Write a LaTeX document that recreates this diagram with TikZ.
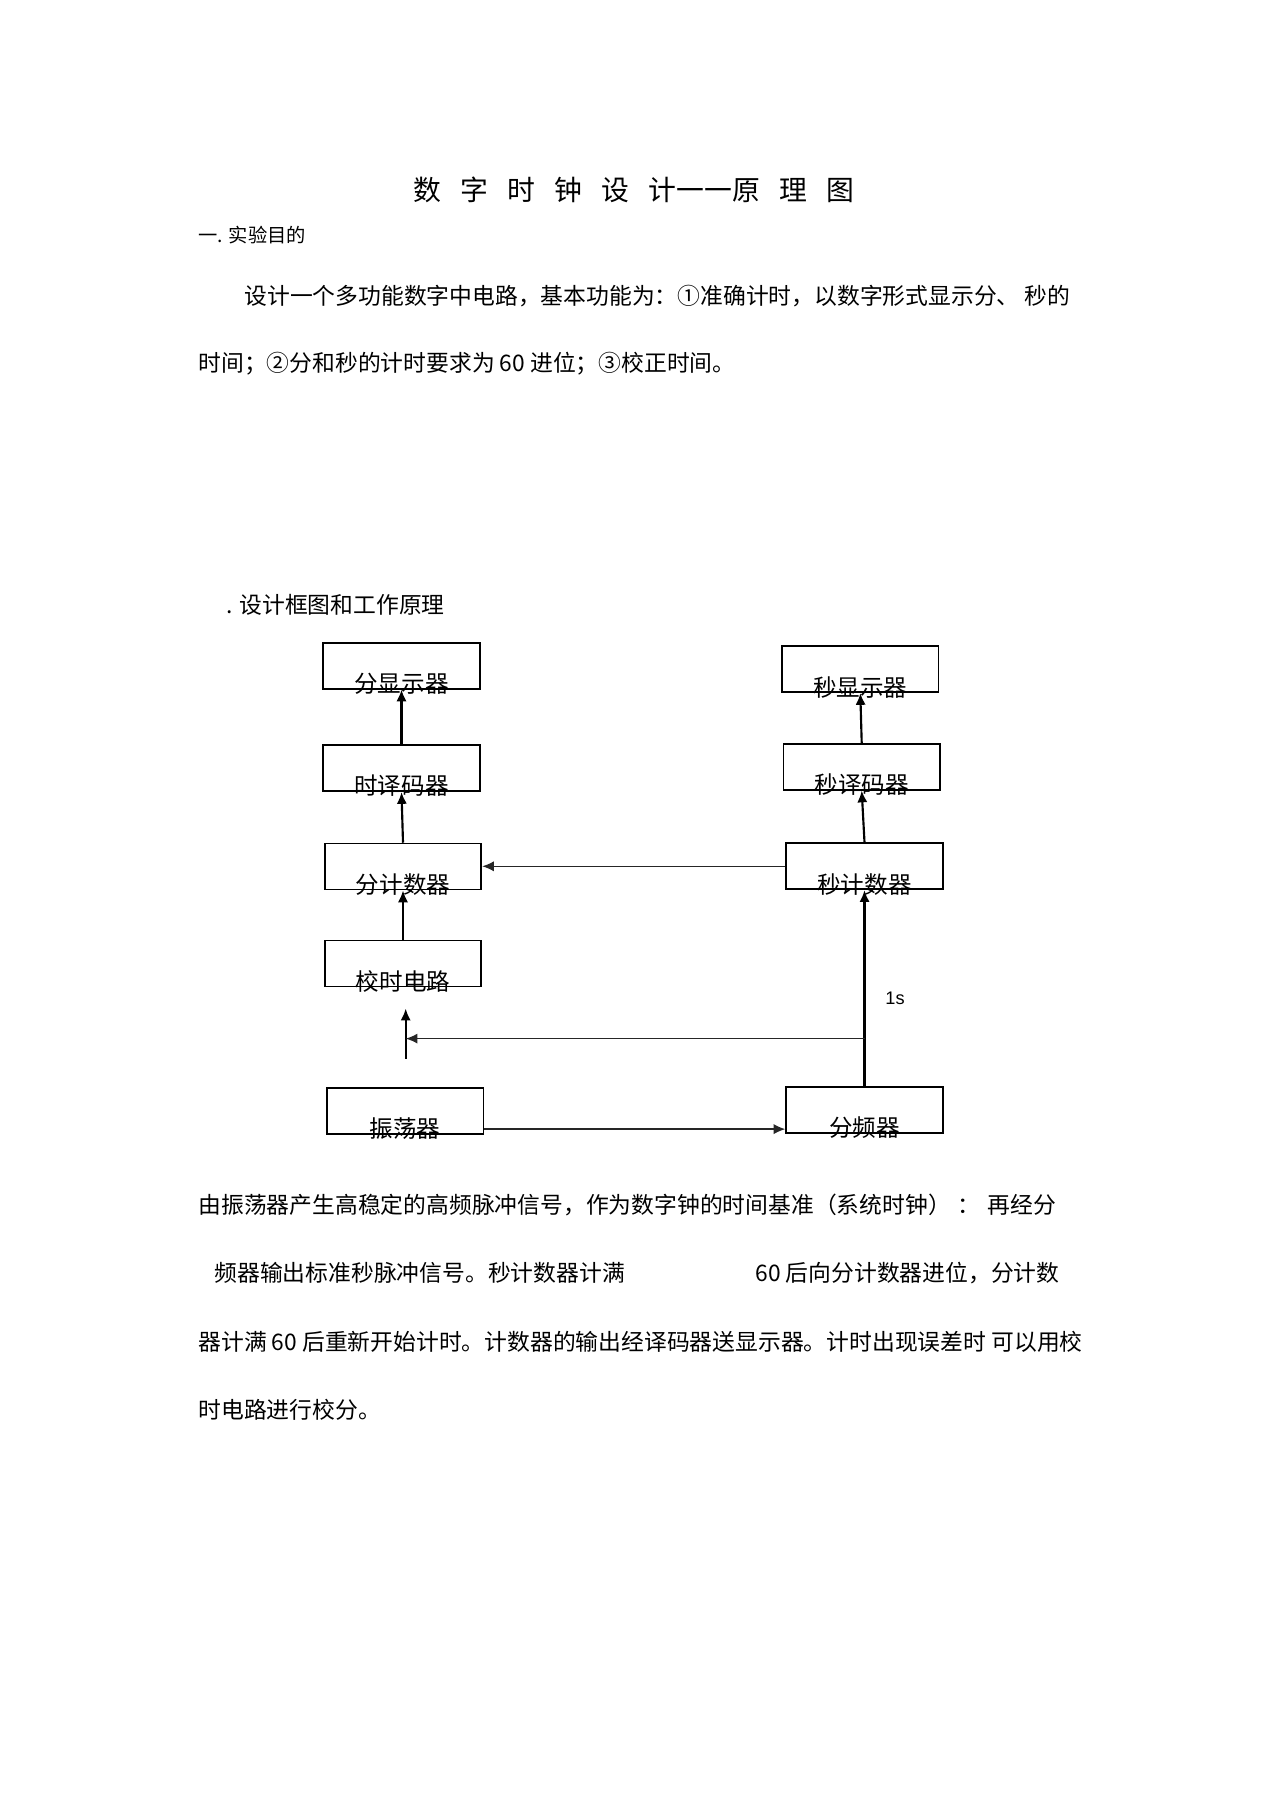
\documentclass[tikz,border=0pt]{standalone}
\usepackage{fontspec}
\setmainfont{Noto Sans CJK SC}
\newfontfamily\latinsf{Liberation Sans}
\usepackage{tikz}
\usetikzlibrary{arrows.meta}
\newcommand{\ttlgap}{\hspace{9pt}}

\begin{document}
\begin{tikzpicture}[x=0.4671pt, y=-0.4671pt,
    blk/.style={draw=black, line width=0.8pt, minimum width=73.1pt,
                minimum height=21.5pt, inner sep=0pt,
                label={[boxtxt]south:#1}},
    boxtxt/.style={anchor=center, yshift=2.8pt,
                font=\fontsize{11pt}{13pt}\selectfont},
    arr/.style={line width=1pt, -{Latex[length=5.5pt,width=4.8pt]}},
    wire/.style={line width=0.75pt, draw=black!85},
    txt/.style={anchor=west, inner sep=0pt,
                font=\fontsize{10.65pt}{12pt}\selectfont}]
\useasboundingbox (0,0) rectangle (1274,1804);

\node[inner sep=0pt, font=\fontsize{13pt}{15pt}\selectfont] (title) at (634,190)
    {数\ttlgap 字\ttlgap 时\ttlgap 钟\ttlgap 设\ttlgap 计一一原\ttlgap 理\ttlgap 图};
\node[txt, font=\fontsize{9pt}{11pt}\selectfont] (aim) at (198,235) {一. 实验目的};
\node[txt] (aim1) at (244,296) {设计一个多功能数字中电路，基本功能为：①准确计时，以数字形式显示分、 秒的};
\node[txt] (aim2) at (198,364) {时间；②分和秒的计时要求为 60 进位；③校正时间。};
\node[txt] (sec2) at (226,605) {. 设计框图和工作原理};

% blocks
\foreach \nm/\px/\py/\tx in {fxs/401.5/665.7/分显示器, fym/401.5/768.2/时译码器,
    fjs/403/866.6/分计数器, jsdl/403/963.5/校时电路, zdq/405.2/1110.7/振荡器,
    mxs/860.3/669.2/秒显示器, mym/861.7/766.7/秒译码器,
    mjs/864.5/866.3/秒计数器, fpq/864.5/1110/分频器}
    \node[blk=\tx] (\nm) at (\px,\py) {};

\draw[arr] (fym.north) -- (fxs.south);
\draw[arr] (fjs.north) -- (fym.south);
\draw[arr] (jsdl.north) -- (fjs.south);
\draw[arr] (mjs.north) -- (mym.south);
\draw[arr] (mym.north) -- (mxs.south);
\draw[arr] (fpq.north) -- (mjs.south);
\draw[arr, wire] (mjs.west) -- (mjs.west -| fjs.east);

\coordinate (br) at (fpq.north |- 0,1038.6);
\coordinate (jtail) at (405.7,1058.6);
\coordinate (jtip) at (405.7,1008.6);
\draw[arr] (jtail) -- (jtip);
\draw[arr, wire] (br) -- (br -| jtail);
\draw[arr, wire] ([yshift=-8.6pt]zdq.east) -- ([yshift=-8.6pt]zdq.east -| fpq.west);
\node[font=\latinsf\fontsize{8.5pt}{10pt}\selectfont] (onesec) at (895,998) {1s};

\node[txt] (p1) at (198,1205) {由振荡器产生高稳定的高频脉冲信号，作为数字钟的时间基准（系统时钟）\hspace{3pt}：\hspace{3.5pt}再经分};
\node[txt] (p2a) at (214,1273) {频器输出标准秒脉冲信号。秒计数器计满};
\node[txt] (p2b) at (755,1273) {60 后向分计数器进位，分计数};
\node[txt] (p3) at (198,1342) {器计满 60 后重新开始计时。计数器的输出经译码器送显示器。计时出现误差时 可以用校};
\node[txt] (p4) at (198,1410) {时电路进行校分。};
\end{tikzpicture}
\end{document}
